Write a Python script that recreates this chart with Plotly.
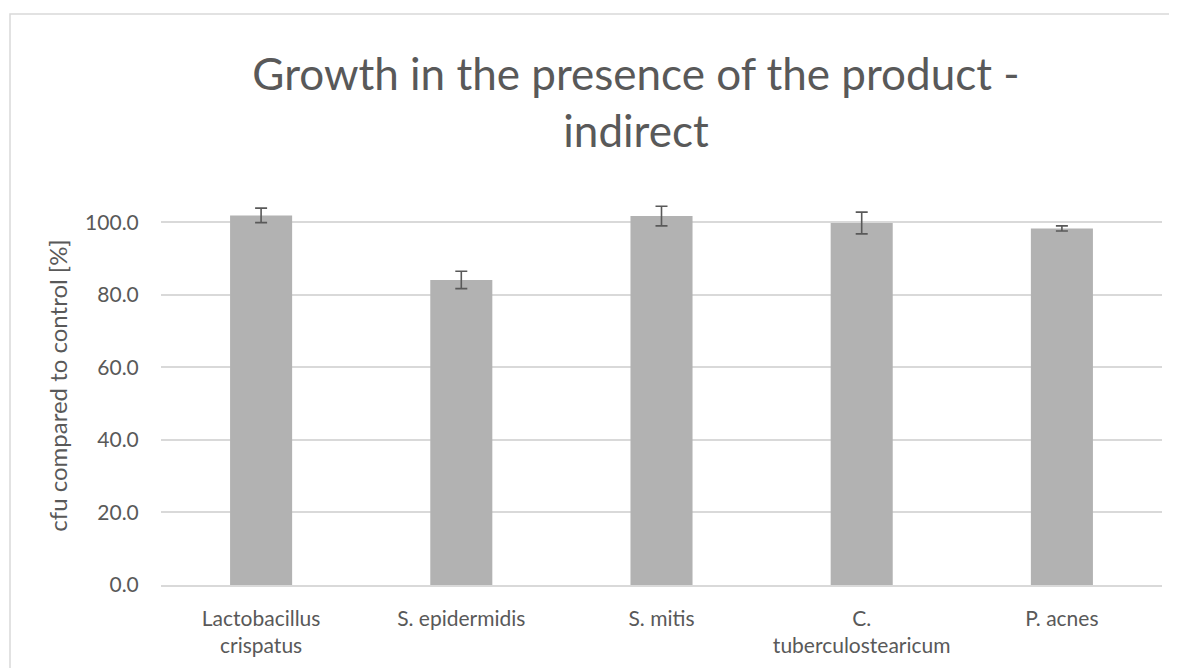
import plotly.graph_objects as go

categories = ["Lactobacillus<br>crispatus", "S. epidermidis", "S. mitis", "C.<br>tuberculostearicum", "P. acnes"]
values = [101.9, 84.1, 101.7, 99.8, 98.3]
errors = [2.0, 2.4, 2.7, 3.0, 0.7]
y_ticks = [0, 20, 40, 60, 80, 100]

OFF = 8  # page body offset
W, H = 1177 - OFF, 668 - OFF
L, T = 161 - OFF, 186 - OFF
B = H - (585 - OFF)
R = W - (1162 - OFF)
pw, ph = W - L - R, H - T - B

fig = go.Figure(go.Bar(
    x=categories, y=values,
    marker=dict(color="#b2b2b2", line=dict(width=0)),
    error_y=dict(type="data", array=errors, visible=True, color="#595959", thickness=1.6, width=6),
))

def px_x(p):
    return (p - OFF - L) / pw

def px_y(p):
    return (H - B - (p - OFF)) / ph

FONT = "Lato, Open Sans, sans-serif"

fig.update_layout(
    width=W, height=H,
    margin=dict(l=L, r=R, t=T, b=B),
    paper_bgcolor="white", plot_bgcolor="white",
    bargap=0.69,
    showlegend=False,
    font=dict(family=FONT, color="#595959"),
    title=dict(
        text="Growth in the presence of the product -<br>indirect",
        x=(636 - OFF) / W, xanchor="center", xref="container",
        y=1 - 82 / H, yanchor="middle", yref="container",
        font=dict(size=44, color="#595959", family=FONT),
    ),
    xaxis=dict(
        showgrid=False, showline=True, linecolor="#d9d9d9", linewidth=1.5,
        ticks="outside", ticklen=14, tickcolor="rgba(0,0,0,0)",
        tickfont=dict(size=21, color="#595959"),
    ),
    yaxis=dict(
        range=[0, 110], tickvals=y_ticks, tickformat=".1f",
        showgrid=True, gridcolor="#d9d9d9", gridwidth=1.5,
        zeroline=False, showline=False,
        ticks="outside", ticklen=17, tickcolor="rgba(0,0,0,0)",
        tickfont=dict(size=21, color="#595959"),
        title=dict(text="cfu compared to control [%]", font=dict(size=24, color="#595959"), standoff=10),
    ),
    shapes=[dict(
        type="rect", xref="paper", yref="paper",
        x0=px_x(10), x1=px_x(1170), y0=px_y(700), y1=px_y(14),
        line=dict(color="#d9d9d9", width=1.5), fillcolor="rgba(0,0,0,0)", layer="below",
    )],
)

fig.write_html("out.html")
